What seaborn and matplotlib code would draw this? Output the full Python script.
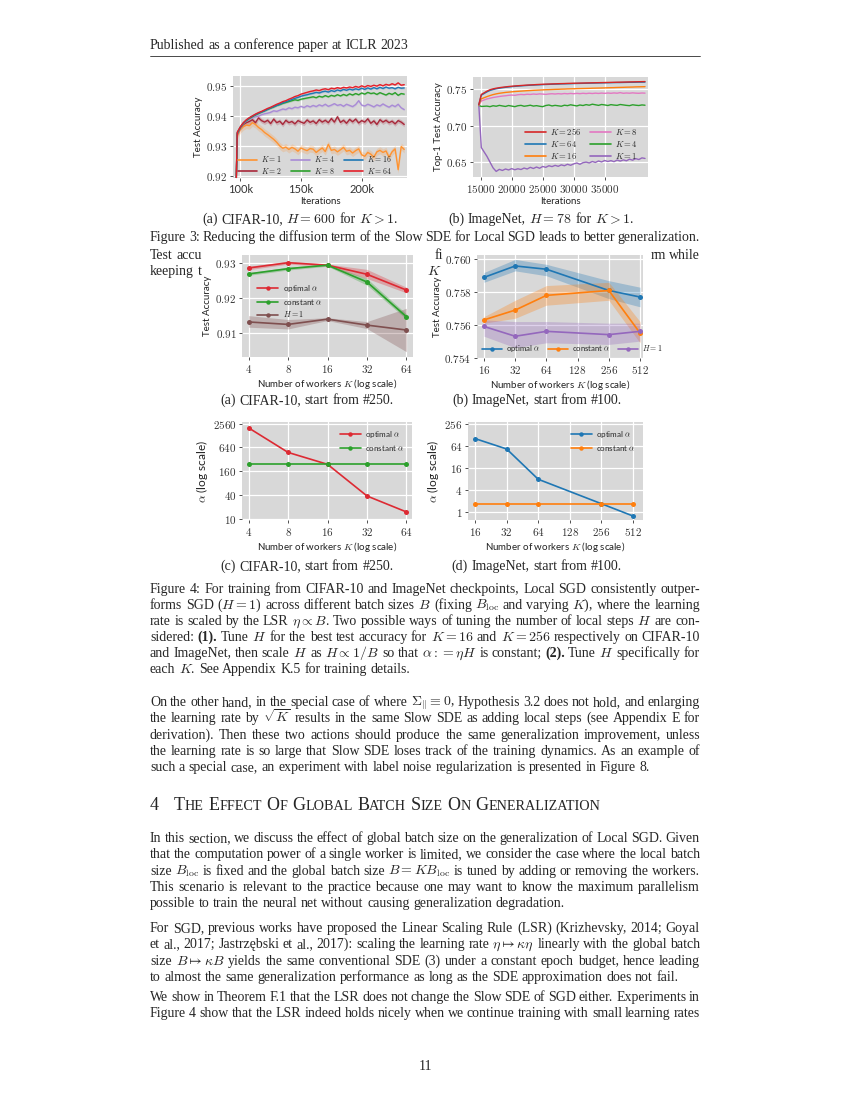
import re
import numpy as np
import pandas as pd
import matplotlib
matplotlib.use("Agg")
import matplotlib.pyplot as plt
import seaborn as sns
from matplotlib.lines import Line2D
from matplotlib.ticker import FixedLocator, FixedFormatter, NullLocator
from matplotlib.mathtext import MathTextParser

# ---------------------------------------------------------------- data
# Fig 3(a): CIFAR-10 test accuracy curves
cifar_iters = [96000, 97500] + list(range(100000, 235001, 2500))
cifar_k1 = [0.905, 0.9335,
    0.9355, 0.9365, 0.9370, 0.9368, 0.9378,
    0.9372, 0.9362, 0.9355, 0.9345, 0.9338,
    0.9330, 0.9322, 0.9312, 0.9300, 0.9292,
    0.9296, 0.9288, 0.9295, 0.9290, 0.9282,
    0.9293, 0.9288, 0.9284, 0.9291, 0.9289,
    0.9278, 0.9286, 0.9293, 0.9281, 0.9305,
    0.9285, 0.9288, 0.9280, 0.9287, 0.9295,
    0.9282, 0.9285, 0.9276, 0.9284, 0.9290,
    0.9270, 0.9265, 0.9278, 0.9272, 0.9262,
    0.9280, 0.9285, 0.9278, 0.9283, 0.9262,
    0.9280, 0.9290, 0.9220, 0.9298, 0.9288]
cifar_k2 = [0.905, 0.9338,
    0.9360, 0.9372, 0.9378, 0.9382, 0.9388,
    0.9378, 0.9394, 0.9385, 0.9380, 0.9386,
    0.9375, 0.9390, 0.9378, 0.9383, 0.9372,
    0.9386, 0.9378, 0.9382, 0.9374, 0.9385,
    0.9380, 0.9376, 0.9387, 0.9379, 0.9384,
    0.9375, 0.9388, 0.9380, 0.9386, 0.9378,
    0.9392, 0.9380, 0.9398, 0.9379, 0.9386,
    0.9376, 0.9389, 0.9381, 0.9390, 0.9377,
    0.9385, 0.9380, 0.9391, 0.9376, 0.9384,
    0.9372, 0.9388, 0.9380, 0.9386, 0.9378,
    0.9383, 0.9374, 0.9385, 0.9380, 0.9372]
cifar_k4 = [0.905, 0.9340,
    0.9360, 0.9375, 0.9383, 0.9390, 0.9394,
    0.9398, 0.9400, 0.9405, 0.9408, 0.9410,
    0.9413, 0.9418, 0.9416, 0.9420, 0.9424,
    0.9422, 0.9428, 0.9425, 0.9430, 0.9428,
    0.9433, 0.9429, 0.9435, 0.9431, 0.9436,
    0.9432, 0.9438, 0.9434, 0.9440, 0.9433,
    0.9437, 0.9442, 0.9436, 0.9439, 0.9433,
    0.9440, 0.9436, 0.9432, 0.9439, 0.9452,
    0.9437, 0.9434, 0.9440, 0.9436, 0.9431,
    0.9438, 0.9434, 0.9441, 0.9435, 0.9430,
    0.9437, 0.9432, 0.9440, 0.9428, 0.9422]
cifar_k8 = [0.905, 0.9342,
    0.9362, 0.9376, 0.9385, 0.9392, 0.9398,
    0.9404, 0.9409, 0.9414, 0.9418, 0.9423,
    0.9427, 0.9431, 0.9436, 0.9439, 0.9443,
    0.9446, 0.9449, 0.9452, 0.9455, 0.9453,
    0.9457, 0.9459, 0.9461, 0.9463, 0.9465,
    0.9462, 0.9467, 0.9464, 0.9469, 0.9465,
    0.9470, 0.9467, 0.9472, 0.9468, 0.9473,
    0.9469, 0.9475, 0.9471, 0.9476, 0.9472,
    0.9478, 0.9474, 0.9480, 0.9476, 0.9478,
    0.9473, 0.9479, 0.9475, 0.9471, 0.9477,
    0.9473, 0.9479, 0.9470, 0.9476, 0.9474]
cifar_k16 = [0.905, 0.9344,
    0.9363, 0.9377, 0.9386, 0.9394, 0.9400,
    0.9405, 0.9410, 0.9414, 0.9418, 0.9423,
    0.9428, 0.9432, 0.9436, 0.9440, 0.9445,
    0.9448, 0.9452, 0.9456, 0.9460, 0.9463,
    0.9467, 0.9470, 0.9472, 0.9475, 0.9477,
    0.9480, 0.9478, 0.9482, 0.9484, 0.9481,
    0.9486, 0.9483, 0.9488, 0.9485, 0.9490,
    0.9487, 0.9491, 0.9488, 0.9492, 0.9489,
    0.9494, 0.9490, 0.9495, 0.9491, 0.9496,
    0.9492, 0.9497, 0.9493, 0.9498, 0.9494,
    0.9496, 0.9492, 0.9497, 0.9494, 0.9495]
cifar_k64 = [0.905, 0.9346,
    0.9364, 0.9378, 0.9388, 0.9395, 0.9401,
    0.9407, 0.9412, 0.9416, 0.9421, 0.9426,
    0.9430, 0.9435, 0.9440, 0.9444, 0.9449,
    0.9452, 0.9457, 0.9461, 0.9466, 0.9469,
    0.9474, 0.9477, 0.9480, 0.9483, 0.9485,
    0.9488, 0.9486, 0.9490, 0.9492, 0.9489,
    0.9494, 0.9492, 0.9496, 0.9493, 0.9497,
    0.9495, 0.9498, 0.9496, 0.9500, 0.9497,
    0.9502, 0.9498, 0.9503, 0.9500, 0.9504,
    0.9501, 0.9506, 0.9502, 0.9507, 0.9504,
    0.9509, 0.9505, 0.9512, 0.9504, 0.9506]
cifar_labels = ["$K = 1$", "$K = 2$", "$K = 4$", "$K = 8$", "$K = 16$", "$K = 64$"]
cifar_spread = [0.0012, 0.0008, 0.0004, 0.0003, 0.0003, 0.0003]

# Fig 3(b): ImageNet top-1 test accuracy curves
in_iters = [14700, 15100] + list(range(16000, 41501, 500))
in_k1 = [0.7280, 0.6700,
    0.6580, 0.6500, 0.6420, 0.6372,
    0.6400, 0.6385, 0.6405, 0.6392,
    0.6410, 0.6395, 0.6408, 0.6398,
    0.6418, 0.6405, 0.6428, 0.6412,
    0.6432, 0.6415, 0.6440, 0.6428,
    0.6450, 0.6438, 0.6455, 0.6442,
    0.6462, 0.6450, 0.6470, 0.6456,
    0.6475, 0.6488, 0.6470, 0.6492,
    0.6500, 0.6488, 0.6508, 0.6495,
    0.6515, 0.6502, 0.6522, 0.6508,
    0.6520, 0.6506, 0.6528, 0.6514,
    0.6530, 0.6518, 0.6540, 0.6526,
    0.6548, 0.6535, 0.6558, 0.6550]
in_k4 = [0.7280, 0.7265,
    0.7270, 0.7262, 0.7275, 0.7268,
    0.7280, 0.7272, 0.7265, 0.7278,
    0.7270, 0.7262, 0.7275, 0.7280,
    0.7268, 0.7274, 0.7282, 0.7270,
    0.7276, 0.7268, 0.7262, 0.7278,
    0.7285, 0.7272, 0.7280, 0.7274,
    0.7268, 0.7282, 0.7276, 0.7288,
    0.7280, 0.7272, 0.7285, 0.7278,
    0.7290, 0.7282, 0.7296, 0.7288,
    0.7280, 0.7292, 0.7286, 0.7278,
    0.7290, 0.7284, 0.7280, 0.7292,
    0.7286, 0.7280, 0.7276, 0.7288,
    0.7282, 0.7278, 0.7286, 0.7282]
in_k8 = [0.7280, 0.7340,
    0.7368, 0.7378, 0.7388, 0.7395,
    0.7402, 0.7408, 0.7412, 0.7418,
    0.7422, 0.7418, 0.7426, 0.7430,
    0.7427, 0.7433, 0.7430, 0.7436,
    0.7432, 0.7438, 0.7435, 0.7431,
    0.7437, 0.7440, 0.7436, 0.7441,
    0.7437, 0.7443, 0.7439, 0.7444,
    0.7440, 0.7445, 0.7441, 0.7446,
    0.7442, 0.7447, 0.7443, 0.7448,
    0.7444, 0.7449, 0.7445, 0.7450,
    0.7446, 0.7451, 0.7447, 0.7455,
    0.7446, 0.7450, 0.7447, 0.7452,
    0.7448, 0.7446, 0.7450, 0.7448]
in_k16 = [0.7285, 0.7370,
    0.7400, 0.7415, 0.7428, 0.7438,
    0.7446, 0.7452, 0.7458, 0.7462,
    0.7466, 0.7470, 0.7473, 0.7476,
    0.7479, 0.7482, 0.7484, 0.7487,
    0.7489, 0.7491, 0.7493, 0.7495,
    0.7496, 0.7498, 0.7500, 0.7501,
    0.7503, 0.7504, 0.7506, 0.7507,
    0.7508, 0.7510, 0.7511, 0.7512,
    0.7513, 0.7514, 0.7516, 0.7517,
    0.7518, 0.7519, 0.7520, 0.7522,
    0.7523, 0.7524, 0.7526, 0.7527,
    0.7528, 0.7530, 0.7531, 0.7532,
    0.7534, 0.7535, 0.7536, 0.7537]
in_k64 = [0.7290, 0.7420,
    0.7465, 0.7485, 0.7498, 0.7508,
    0.7516, 0.7522, 0.7528, 0.7533,
    0.7537, 0.7541, 0.7545, 0.7548,
    0.7551, 0.7554, 0.7557, 0.7559,
    0.7561, 0.7563, 0.7565, 0.7567,
    0.7569, 0.7570, 0.7572, 0.7573,
    0.7575, 0.7576, 0.7577, 0.7578,
    0.7580, 0.7581, 0.7582, 0.7583,
    0.7584, 0.7585, 0.7586, 0.7587,
    0.7588, 0.7589, 0.7590, 0.7591,
    0.7592, 0.7593, 0.7594, 0.7594,
    0.7595, 0.7596, 0.7597, 0.7597,
    0.7598, 0.7599, 0.7599, 0.7600]
in_k256 = [0.7290, 0.7430,
    0.7475, 0.7495, 0.7507, 0.7516,
    0.7523, 0.7529, 0.7534, 0.7539,
    0.7543, 0.7547, 0.7550, 0.7553,
    0.7556, 0.7559, 0.7561, 0.7563,
    0.7566, 0.7568, 0.7570, 0.7572,
    0.7573, 0.7575, 0.7576, 0.7578,
    0.7579, 0.7580, 0.7582, 0.7583,
    0.7584, 0.7585, 0.7586, 0.7587,
    0.7588, 0.7589, 0.7590, 0.7591,
    0.7592, 0.7593, 0.7594, 0.7595,
    0.7596, 0.7597, 0.7598, 0.7599,
    0.7600, 0.7601, 0.7602, 0.7603,
    0.7604, 0.7605, 0.7606, 0.7607]
in_labels = ["$K = 256$", "$K = 64$", "$K = 16$", "$K = 8$", "$K = 4$", "$K = 1$"]

# Fig 4(a)/(c): CIFAR-10
c_K = [4, 8, 16, 32, 64]
c_opt = [0.9285, 0.9300, 0.9293, 0.9267, 0.9222]
c_opt_lo = [0.9280, 0.9296, 0.9290, 0.9255, 0.9214]
c_opt_hi = [0.9290, 0.9304, 0.9296, 0.9281, 0.9230]
c_const = [0.9268, 0.9283, 0.9293, 0.9245, 0.9146]
c_const_lo = [0.9264, 0.9279, 0.9290, 0.9236, 0.9139]
c_const_hi = [0.9272, 0.9287, 0.9296, 0.9255, 0.9154]
c_sgd = [0.9131, 0.9124, 0.9139, 0.9122, 0.9108]
c_sgd_lo = [0.9116, 0.9111, 0.9135, 0.9112, 0.9046]
c_sgd_hi = [0.9149, 0.9138, 0.9143, 0.9132, 0.9170]
c_alpha_opt = [2000, 480, 240, 38, 15]
c_alpha_const = [240, 240, 240, 240, 240]

# Fig 4(b)/(d): ImageNet
i_K = [16, 32, 64, 256, 512]
i_opt = [0.7589, 0.7596, 0.7594, 0.7581, 0.7577]
i_opt_lo = [0.7586, 0.7593, 0.7590, 0.7576, 0.7571]
i_opt_hi = [0.7592, 0.7600, 0.7597, 0.7587, 0.7583]
i_const = [0.7563, 0.7569, 0.7578, 0.7581, 0.7555]
i_const_lo = [0.7561, 0.7564, 0.7572, 0.7575, 0.7549]
i_const_hi = [0.7565, 0.7575, 0.7584, 0.7586, 0.7562]
i_sgd = [0.7559, 0.7553, 0.7556, 0.7554, 0.7556]
i_sgd_lo = [0.7553, 0.7546, 0.7549, 0.7548, 0.7550]
i_sgd_hi = [0.7563, 0.7562, 0.7562, 0.7561, 0.7561]
i_alpha_opt = [100, 52, 7.7, 1.65, 0.76]
i_alpha_const = [1.65, 1.65, 1.65, 1.65, 1.65]

method_labels = [r"optimal $\alpha$", r"constant $\alpha$", r"$H = 1$"]

# tick labels
A_xticks = [100000, 150000, 200000]
A_xticklabels = ["100k", "150k", "200k"]
A_yticks = [0.92, 0.93, 0.94, 0.95]
B_xticks = [15000, 20000, 25000, 30000, 35000]
B_yticks = [0.65, 0.70, 0.75]
C_yticks = [0.91, 0.92, 0.93]
D_yticks = [0.754, 0.756, 0.758, 0.760]
E_yticks = [10, 40, 160, 640, 2560]
F_yticks = [1, 4, 16, 64, 256]
F_xticks = [16, 32, 64, 128, 256, 512]

# ---------------------------------------------------------------- style
BG = "#d8d8d8"
sns.set_theme(style="darkgrid", rc={
    "axes.facecolor": BG, "grid.color": "white", "grid.linewidth": 0.9,
    "xtick.bottom": True, "ytick.left": True,
    "xtick.major.size": 2.5, "ytick.major.size": 2.5,
    "xtick.major.width": 0.6, "ytick.major.width": 0.6,
    "xtick.color": "#333333", "ytick.color": "#333333",
    "axes.labelcolor": "#222222",
})
plt.rcParams["font.family"] = ["Lato", "DejaVu Sans"]
plt.rcParams["mathtext.fontset"] = "cm"
plt.rcParams["axes.unicode_minus"] = False

W, H = 850, 1100
fig = plt.figure(figsize=(8.5, 11), dpi=100)
fig.patch.set_facecolor("white")
renderer = fig.canvas.get_renderer()
SERIF = "Liberation Serif"


def add_ax(l, t, r, b):
    ax = fig.add_axes([l / W, 1 - b / H, (r - l) / W, (b - t) / H])
    ax.set_zorder(5)
    for s in ax.spines.values():
        s.set_visible(False)
    return ax


def mathlab(vals, fmt):
    return ["$" + format(v, fmt) + "$" for v in vals]


def set_ticks(ax, axis, vals, labels, size=8):
    a = ax.xaxis if axis == "x" else ax.yaxis
    a.set_major_locator(FixedLocator(vals))
    a.set_major_formatter(FixedFormatter(labels))
    a.set_minor_locator(NullLocator())
    ax.tick_params(axis=axis, labelsize=size, pad=1.5)


def labels(ax, xl, yl, size=7, ysize=None):
    ax.set_xlabel(xl, fontsize=size, labelpad=1.5)
    ax.set_ylabel(yl, fontsize=ysize or size, labelpad=2)


# ---------------------------------------------------------------- Fig 3(a)
axA = add_ax(233, 76, 407, 178)
A_series = [cifar_k1, cifar_k2, cifar_k4, cifar_k8, cifar_k16, cifar_k64]
A_colors = ["#ff9330", "#a8283a", "#a98bd6", "#2ca02c", "#1f77b4", "#e4202a"]
rows = []
for lab, vals in zip(cifar_labels, A_series):
    n = min(len(vals), len(cifar_iters))
    rows.append(pd.DataFrame({"iter": cifar_iters[:n], "acc": vals[:n], "K": lab}))
dfA = pd.concat(rows, ignore_index=True)
for lab, col, sp in zip(cifar_labels, A_colors, cifar_spread):
    d = dfA[dfA.K == lab]
    axA.fill_between(d["iter"], d["acc"] - sp, d["acc"] + sp, color=col, alpha=0.22, lw=0)
sns.lineplot(data=dfA, x="iter", y="acc", hue="K", hue_order=cifar_labels,
             palette=dict(zip(cifar_labels, A_colors)), estimator=None, errorbar=None,
             lw=1.0, legend=False, ax=axA)
axA.set_xlim(94000, 237300)
axA.set_ylim(0.9192, 0.9535)
set_ticks(axA, "x", A_xticks, A_xticklabels)
set_ticks(axA, "y", A_yticks, mathlab(A_yticks, ".2f"))
labels(axA, "Iterations", "Test Accuracy")
hA = [Line2D([], [], color=c, lw=1.2) for c in A_colors]
axA.legend(hA, cifar_labels, ncol=3, loc="lower left", bbox_to_anchor=(0.0, -0.03),
           frameon=False, fontsize=5.6, handlelength=2.4, columnspacing=1.2,
           labelspacing=0.15, handletextpad=0.5, borderaxespad=0.3)

# ---------------------------------------------------------------- Fig 3(b)
axB = add_ax(473, 77, 648, 177)
B_series = [in_k256, in_k64, in_k16, in_k8, in_k4, in_k1]
B_colors = ["#d62728", "#1f77b4", "#ff7f0e", "#e377c2", "#2ca02c", "#9467bd"]
rows = []
for lab, vals in zip(in_labels, B_series):
    n = min(len(vals), len(in_iters))
    rows.append(pd.DataFrame({"iter": in_iters[:n], "acc": vals[:n], "K": lab}))
dfB = pd.concat(rows, ignore_index=True)
draw_order = in_labels[::-1]
sns.lineplot(data=dfB, x="iter", y="acc", hue="K", hue_order=draw_order,
             palette=dict(zip(in_labels, B_colors)), estimator=None, errorbar=None,
             lw=1.0, legend=False, ax=axB)
axB.set_xlim(13760, 41980)
axB.set_ylim(0.6295, 0.767)
set_ticks(axB, "x", B_xticks, mathlab(B_xticks, "d"))
set_ticks(axB, "y", B_yticks, mathlab(B_yticks, ".2f"))
labels(axB, "Iterations", "Top-1 Test Accuracy")
hB = [Line2D([], [], color=c, lw=1.2) for c in B_colors]
axB.legend(hB, in_labels, ncol=2, loc="upper left", bbox_to_anchor=(0.28, 0.54),
           frameon=False, fontsize=6.2, handlelength=2.4, columnspacing=1.0,
           labelspacing=0.2, handletextpad=0.5, borderaxespad=0.0)

# ---------------------------------------------------------------- helpers for Fig 4
def method_plot(ax, Ks, ys, colors, bands=None):
    df = pd.concat([pd.DataFrame({"K": Ks, "v": y, "m": m})
                    for y, m in zip(ys, method_labels[:len(ys)])], ignore_index=True)
    if bands is not None:
        for (lo, hi), c in zip(bands, colors):
            ax.fill_between(Ks, lo, hi, color=c, alpha=0.3, lw=0)
    sns.lineplot(data=df, x="K", y="v", hue="m", hue_order=method_labels[:len(ys)],
                 palette=dict(zip(method_labels, colors)), marker="o", markersize=3.6,
                 markeredgewidth=0, lw=1.2, estimator=None, errorbar=None,
                 legend=False, ax=ax)
    ax.set_xscale("log", base=2)
    return [Line2D([], [], color=c, lw=1.2, marker="o", markersize=3.2, markeredgewidth=0)
            for c in colors[:len(ys)]]


XLAB = r"Number of workers $K$ (log scale)"

# Fig 4(a)
axC = add_ax(242, 255, 413, 357)
cC = ["#dd2a33", "#2ca02c", "#7f4f4f"]
hC = method_plot(axC, c_K, [c_opt, c_const, c_sgd], cC,
                 [(c_opt_lo, c_opt_hi), (c_const_lo, c_const_hi), (c_sgd_lo, c_sgd_hi)])
axC.set_xlim(3.56, 71.9)
axC.set_ylim(0.9031, 0.9322)
set_ticks(axC, "x", c_K, mathlab(c_K, "d"))
set_ticks(axC, "y", C_yticks, mathlab(C_yticks, ".2f"))
labels(axC, XLAB, "Test Accuracy")
axC.legend(hC, method_labels, loc="upper left", bbox_to_anchor=(0.07, 0.76), frameon=False,
           fontsize=5.8, handlelength=2.6, labelspacing=0.35, handletextpad=0.6,
           borderaxespad=0.0)

# Fig 4(b)
axD = add_ax(477, 255, 643, 358)
cD = ["#1f77b4", "#ff7f0e", "#9467bd"]
hD = method_plot(axD, i_K, [i_opt, i_const, i_sgd], cD,
                 [(i_opt_lo, i_opt_hi), (i_const_lo, i_const_hi), (i_sgd_lo, i_sgd_hi)])
axD.set_xlim(13.7, 547)
axD.set_ylim(0.75397, 0.76027)
set_ticks(axD, "x", F_xticks, mathlab(F_xticks, "d"))
set_ticks(axD, "y", D_yticks, mathlab(D_yticks, ".3f"))
labels(axD, XLAB, "Test Accuracy")
axD.legend(hD, method_labels, loc="lower left", bbox_to_anchor=(0.0, -0.01), ncol=3,
           frameon=False, fontsize=5.6, handlelength=2.6, columnspacing=1.0,
           handletextpad=0.5, borderaxespad=0.2)

# Fig 4(c)
axE = add_ax(242, 422, 412, 520)
hE = method_plot(axE, c_K, [c_alpha_opt, c_alpha_const], cC)
axE.set_yscale("log", base=2)
axE.set_xlim(3.56, 70.5)
axE.set_ylim(9.4, 2820)
set_ticks(axE, "x", c_K, mathlab(c_K, "d"))
set_ticks(axE, "y", E_yticks, mathlab(E_yticks, "d"))
labels(axE, XLAB, r"$\alpha$ (log scale)", ysize=8.6)
axE.legend(hE, method_labels[:2], loc="upper right", frameon=False, fontsize=5.8,
           handlelength=2.6, labelspacing=0.35, handletextpad=0.6, borderaxespad=0.5)

# Fig 4(d)
axF = add_ax(468, 422, 643, 520)
hF = method_plot(axF, i_K, [i_alpha_opt, i_alpha_const], cD)
axF.set_yscale("log", base=2)
axF.set_xlim(13.7, 639)
axF.set_ylim(0.59, 285)
set_ticks(axF, "x", F_xticks, mathlab(F_xticks, "d"))
set_ticks(axF, "y", F_yticks, mathlab(F_yticks, "d"))
labels(axF, XLAB, r"$\alpha$ (log scale)", ysize=8.6)
axF.legend(hF, method_labels[:2], loc="upper right", frameon=False, fontsize=5.8,
           handlelength=2.6, labelspacing=0.35, handletextpad=0.6, borderaxespad=0.5)

# ---------------------------------------------------------------- page text
TOK = re.compile(r"(?:\$[^$]*\$|[^\s$])+")
SPACE = 3.5


def make_tokens(line, size):
    arts = []
    for t in TOK.findall(line):
        bold = t.startswith("**") and t.endswith("**") and len(t) > 4
        s = t[2:-2] if bold else t
        a = fig.text(0, 0, s, fontsize=size, family=SERIF, va="baseline", ha="left",
                     weight="bold" if bold else "normal")
        arts.append(a)
    ws = [a.get_window_extent(renderer=renderer).width for a in arts]
    return arts, ws


def place_line(line, yb, x0=150, x1=700, size=10, mode="justify"):
    arts, ws = make_tokens(line, size)
    n = len(arts)
    if mode == "justify" and n > 1:
        gap = (x1 - x0 - sum(ws)) / (n - 1)
        x = x0
    elif mode == "center":
        gap = SPACE
        x = x0 - (sum(ws) + gap * (n - 1)) / 2
    elif mode == "right":
        gap = SPACE
        x = x1 - (sum(ws) + gap * (n - 1))
    else:
        gap = SPACE
        x = x0
    for a, w in zip(arts, ws):
        a.set_position((x / W, 1 - yb / H))
        x += w + gap


def paragraph(lines, y0, step=16.2, last_justify=False):
    for i, ln in enumerate(lines):
        last = i == len(lines) - 1
        place_line(ln, y0 + i * step, mode="justify" if (not last or last_justify) else "left")


def smallcaps(text, x, yb, big=13, small=10.2):
    for word in text.split(" "):
        a = fig.text(x / W, 1 - yb / H, word[0], fontsize=big, family=SERIF, va="baseline")
        x += a.get_window_extent(renderer=renderer).width
        if len(word) > 1:
            b = fig.text(x / W, 1 - yb / H, word[1:].upper(), fontsize=small, family=SERIF,
                         va="baseline")
            x += b.get_window_extent(renderer=renderer).width
        x += 4.6


def safe_math(preferred, fallback):
    try:
        MathTextParser("path").parse(preferred.strip("$,"), 72)
        return preferred
    except Exception:
        return fallback


SIGMA = safe_math(r"$\boldsymbol{\Sigma}_{\Vert} \equiv \mathbf{0}$,",
                  r"$\mathbf{\Sigma}_{\Vert} \equiv \mathbf{0}$,")

# header
place_line("Published as a conference paper at ICLR 2023", 49, mode="left")
fig.add_artist(Line2D([150 / W, 700 / W], [1 - 55.5 / H, 1 - 55.5 / H], color="black",
                      lw=0.5, transform=fig.transFigure))

# Figure 3 captions (the rest of this caption is hidden behind Figure 4 in the page)
place_line(r"(a) CIFAR-10, $H = 600$ for $K > 1$.", 223, x0=300, x1=300, mode="center")
place_line(r"(b) ImageNet, $H = 78$ for $K > 1$.", 223, x0=541, x1=541, mode="center")
place_line("Figure 3: Reducing the diffusion term of the Slow SDE for Local SGD leads to better generalization.", 241.5)
place_line("Test accu", 259, mode="left")
place_line("fi", 259, x0=435, mode="left")
place_line("rm while", 259, x1=700, mode="right")
place_line("keeping t", 275, mode="left")
place_line("$K$", 275, x0=427, mode="left")

# Figure 4 sub-captions
place_line("(a) CIFAR-10, start from #250.", 404, x0=307, x1=307, mode="center")
place_line("(b) ImageNet, start from #100.", 404, x0=537, x1=537, mode="center")
place_line("(c) CIFAR-10, start from #250.", 570, x0=307, x1=307, mode="center")
place_line("(d) ImageNet, start from #100.", 570, x0=537, x1=537, mode="center")

paragraph([
    "Figure 4:  For training from CIFAR-10 and ImageNet checkpoints, Local SGD consistently outper-",
    r"forms SGD ($H = 1$) across different batch sizes $B$ (fixing $B_{\mathrm{loc}}$ and varying $K$), where the learning",
    r"rate is scaled by the LSR $\eta \propto B$. Two possible ways of tuning the number of local steps $H$ are con-",
    r"sidered: **(1).** Tune $H$ for the best test accuracy for $K = 16$ and $K = 256$ respectively on CIFAR-10",
    r"and ImageNet, then scale $H$ as $H \propto 1/B$ so that $\alpha := \eta H$ is constant; **(2).** Tune $H$ specifically for",
    r"each $K$. See Appendix K.5 for training details.",
], 593, step=16.0)

paragraph([
    "On the other hand, in the special case of where " + SIGMA + " Hypothesis 3.2 does not hold, and enlarging",
    r"the learning rate by $\sqrt{K}$ results in the same Slow SDE as adding local steps (see Appendix E for",
    "derivation). Then these two actions should produce the same generalization improvement, unless",
    "the learning rate is so large that Slow SDE loses track of the training dynamics. As an example of",
    "such a special case, an experiment with label noise regularization is presented in Figure 8.",
], 706, step=16.3)

fig.text(150 / W, 1 - 810 / H, "4", fontsize=13, family=SERIF, va="baseline")
smallcaps("THE EFFECT OF GLOBAL BATCH SIZE ON GENERALIZATION", 174, 810)

paragraph([
    "In this section, we discuss the effect of global batch size on the generalization of Local SGD. Given",
    "that the computation power of a single worker is limited, we consider the case where the local batch",
    r"size $B_{\mathrm{loc}}$ is fixed and the global batch size $B = KB_{\mathrm{loc}}$ is tuned by adding or removing the workers.",
    "This scenario is relevant to the practice because one may want to know the maximum parallelism",
    "possible to train the neural net without causing generalization degradation.",
], 842, step=16.3)

paragraph([
    "For SGD, previous works have proposed the Linear Scaling Rule (LSR) (Krizhevsky, 2014; Goyal",
    r"et al., 2017; Jastrzębski et al., 2017): scaling the learning rate $\eta \mapsto \kappa\eta$ linearly with the global batch",
    r"size $B \mapsto \kappa B$ yields the same conventional SDE (3) under a constant epoch budget, hence leading",
    "to almost the same generalization performance as long as the SDE approximation does not fail.",
], 932, step=16.3)

paragraph([
    "We show in Theorem F.1 that the LSR does not change the Slow SDE of SGD either. Experiments in",
    "Figure 4 show that the LSR indeed holds nicely when we continue training with small learning rates",
], 1001, step=16.3, last_justify=True)

place_line("11", 1070, x0=425, x1=425, mode="center")

fig.savefig("out.png", dpi=100, facecolor="white")
